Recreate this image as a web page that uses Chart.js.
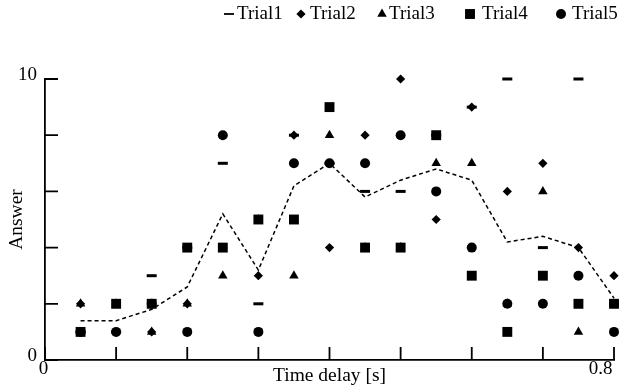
<!DOCTYPE html>
<html>
<head>
    <title>Answer vs time delay</title>
    <script src="https://cdn.jsdelivr.net/npm/chart.js"></script>
    <style>
        body { margin: 0; background: #fff; }
        #wrap { width: 622px; height: 390px; }
    </style>
</head>
<body>
    <div id="wrap"><canvas id="answerChart" width="622" height="390"></canvas></div>

    <script>
        // ===== DATA =====
        const timeDelay = [0.05, 0.1, 0.15, 0.2, 0.25, 0.3, 0.35, 0.4, 0.45, 0.5, 0.55, 0.6, 0.65, 0.7, 0.75, 0.8];
        const trial1 = [1, 1, 3, 4, 7, 2, 8, 7, 6, 6, 8, 9, 10, 4, 10, 2];
        const trial2 = [2, 1, 1, 2, 4, 3, 8, 4, 8, 10, 5, 9, 6, 7, 4, 3];
        const trial3 = [2, 2, 1, 2, 3, 5, 3, 8, 4, 4, 7, 7, 2, 6, 1, 2];
        const trial4 = [1, 2, 2, 4, 4, 5, 5, 9, 4, 4, 8, 3, 1, 3, 2, 2];
        const trial5 = [1, 1, 2, 1, 8, 1, 7, 7, 7, 8, 6, 4, 2, 2, 3, 1];
        const meanAnswer = [1.4, 1.4, 1.8, 2.6, 5.2, 3.2, 6.2, 7.0, 5.8, 6.4, 6.8, 6.4, 4.2, 4.4, 4.0, 2.2];
        const xTickLabels = [0, 0.8];
        const yTickLabels = [0, 10];

        const FONT = "'Liberation Serif', 'Times New Roman', serif";
        const pts = (ys) => timeDelay.map((x, i) => ({ x: x, y: ys[i] }));

        // marker look per trial
        const trialStyles = [
            { label: 'Trial1', data: trial1, pointStyle: 'line', radius: 5, borderWidth: 3 },
            { label: 'Trial2', data: trial2, pointStyle: 'rectRot', radius: 4.6, borderWidth: 0 },
            { label: 'Trial3', data: trial3, pointStyle: 'triangle', radius: 5.5, borderWidth: 0 },
            { label: 'Trial4', data: trial4, pointStyle: 'rect', radius: 7, borderWidth: 0 },
            { label: 'Trial5', data: trial5, pointStyle: 'circle', radius: 5, borderWidth: 0 }
        ];
        // legend: marker centre x and text start x
        const legendMarkerX = [229, 301, 382, 470, 561];
        const legendTextX = [237, 310, 389, 482, 572];

        const datasets = trialStyles.map(t => ({
            label: t.label,
            data: pts(t.data),
            pointStyle: t.pointStyle,
            pointRadius: t.radius,
            pointHoverRadius: t.radius,
            pointBorderWidth: t.borderWidth,
            backgroundColor: '#000',
            borderColor: '#000',
            showLine: false,
            clip: false
        }));
        datasets.push({
            label: 'Mean',
            data: pts(meanAnswer),
            showLine: true,
            borderColor: '#000',
            borderWidth: 1.5,
            borderDash: [4, 3],
            pointRadius: 0,
            tension: 0,
            fill: false,
            clip: false
        });

        // ticks pointing into the plot + the two x labels + legend
        const axisExtras = {
            id: 'axisExtras',
            afterDraw(chart) {
                const ctx = chart.ctx, xs = chart.scales.x, ys = chart.scales.y;
                const area = chart.chartArea;
                ctx.save();
                ctx.strokeStyle = '#000';
                ctx.lineWidth = 1.8;
                ctx.beginPath();
                xs.ticks.forEach(t => {
                    const px = xs.getPixelForValue(t.value);
                    ctx.moveTo(px, area.bottom);
                    ctx.lineTo(px, area.bottom - 13);
                });
                ys.ticks.forEach(t => {
                    const py = ys.getPixelForValue(t.value);
                    ctx.moveTo(area.left, py);
                    ctx.lineTo(area.left + 13, py);
                });
                ctx.stroke();

                ctx.fillStyle = '#000';
                ctx.font = '19px ' + FONT;
                ctx.textBaseline = 'middle';
                xTickLabels.forEach(v => {
                    const px = xs.getPixelForValue(v);
                    ctx.textAlign = v === xs.max ? 'right' : 'center';
                    ctx.fillText(String(v), px - 1.5, area.bottom + 9);
                });

                // legend
                ctx.textAlign = 'left';
                ctx.textBaseline = 'alphabetic';
                trialStyles.forEach((t, i) => {
                    Chart.helpers.drawPoint(ctx, {
                        pointStyle: t.pointStyle,
                        radius: t.radius,
                        borderWidth: t.borderWidth,
                        rotation: 0
                    }, legendMarkerX[i], 14);
                    ctx.fillText(t.label, legendTextX[i], 19);
                });
                ctx.restore();
            }
        };

        new Chart(document.getElementById('answerChart'), {
            type: 'scatter',
            data: { datasets: datasets },
            options: {
                responsive: false,
                animation: false,
                devicePixelRatio: 1,
                layout: { padding: { top: 79, right: 6, left: 0, bottom: 0 } },
                plugins: {
                    legend: { display: false },
                    tooltip: { enabled: false }
                },
                scales: {
                    x: {
                        type: 'linear',
                        min: 0,
                        max: 0.8,
                        ticks: { stepSize: 0.1, display: false },
                        grid: { display: false, drawTicks: false },
                        border: { display: true, color: '#000', width: 1.8 },
                        title: {
                            display: true,
                            text: 'Time delay [s]',
                            color: '#000',
                            font: { family: FONT, size: 19.5 },
                            padding: { top: 0, bottom: 2 }
                        },
                        afterFit(scale) { scale.height = 30; }
                    },
                    y: {
                        min: 0,
                        max: 10,
                        ticks: {
                            stepSize: 2,
                            color: '#000',
                            padding: 8,
                            labelOffset: -4,
                            font: { family: FONT, size: 19 },
                            callback: v => yTickLabels.includes(v) ? String(v) : ''
                        },
                        grid: { display: false, drawTicks: false },
                        border: { display: true, color: '#000', width: 1.8 },
                        title: {
                            display: true,
                            text: 'Answer',
                            color: '#000',
                            font: { family: FONT, size: 19.5 },
                            padding: { top: 5, bottom: 0 }
                        },
                        afterFit(scale) { scale.width = 45; }
                    }
                }
            },
            plugins: [axisExtras]
        });
    </script>
</body>
</html>
